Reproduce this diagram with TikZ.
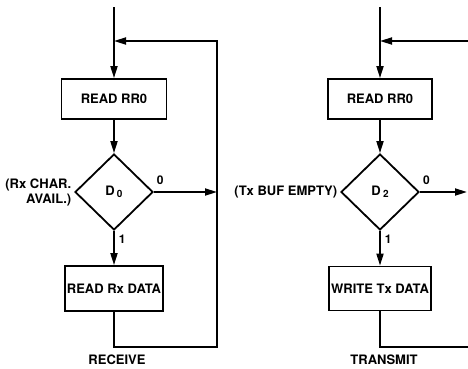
\documentclass[tikz,border=0pt]{standalone}
\usepackage{fontspec}
\setmainfont{TeX Gyre Heros}
\usepackage{tikz}
\usetikzlibrary{positioning, arrows.meta, shapes.geometric}

\newcommand{\subidx}[1]{\raisebox{-2.5pt}{\fontsize{10}{10}\selectfont #1}}

\tikzset{
  procbox/.style={draw, rectangle, minimum height=40pt, inner sep=0pt},
  testbox/.style={draw, diamond, minimum width=78pt, minimum height=76pt, inner sep=0pt},
  branchlbl/.style={font=\bfseries\fontsize{12}{14}\selectfont, inner sep=1pt},
  sidelbl/.style={anchor=east, align=right, inner sep=0pt}
}

\begin{document}
\begin{tikzpicture}[x=1pt, y=-1pt, >={Triangle[length=12pt,width=7pt]}, line width=1.8pt,
    font=\bfseries\fontsize{13}{15}\selectfont]
  \useasboundingbox (0,0) rectangle (468,368);

  % Receive side
  \coordinate (rxtop) at (114,7);
  \coordinate (rxjoin) at (114,41);
  \coordinate (rxloop) at (217,41);
  \coordinate (rxside) at (217,192);
  \coordinate (rxcorner) at (217,347);

  \node[procbox, minimum width=105pt] (rxread) at (114,99) {READ RR0};
  \node[testbox] (rxtest) at (114,192) {D\,\subidx{0}};
  \node[procbox, minimum width=98pt, minimum height=45pt] (rxdata) at (114,288.5) {READ Rx DATA};
  \node[sidelbl] (rxcond) at ([xshift=-2pt]rxtest.west) {(Rx CHAR.\\AVAIL.)};

  \draw[->] (rxtop) -- (rxread.north);
  \draw[->] (rxread.south) -- (rxtest.north);
  \draw[->] (rxtest.south) -- node[branchlbl, right, pos=0.25, xshift=3pt] {1} (rxdata.north);
  \draw[->] (rxtest.east) -- node[branchlbl, above, pos=0.1, yshift=6pt] {0} (rxside);
  \draw[->] (rxdata.south) |- (rxcorner) -- (rxloop) -- (rxjoin);

  \node[inner sep=1pt] (rxname) at (117,360) {RECEIVE};

  % Transmit side
  \coordinate (txtop) at (380,7);
  \coordinate (txjoin) at (380,41);
  \coordinate (txin) at (468,41);
  \coordinate (txout) at (467,192);
  \coordinate (txend) at (468,347);

  \node[procbox, minimum width=104pt] (txread) at (380,99) {READ RR0};
  \node[testbox] (txtest) at (380,192) {D\,\subidx{2}};
  \node[procbox, minimum width=102pt, minimum height=44pt] (txdata) at (380,288.5) {WRITE Tx DATA};
  \node[sidelbl] (txcond) at ([xshift=-2pt]txtest.west) {(Tx BUF EMPTY)};

  \draw[->] (txtop) -- (txread.north);
  \draw[->] (txin) -- (txjoin);
  \draw[->] (txread.south) -- (txtest.north);
  \draw[->] (txtest.south) -- node[branchlbl, right, pos=0.25, xshift=3pt] {1} (txdata.north);
  \draw[->] (txtest.east) -- node[branchlbl, above, pos=0.14, yshift=6pt] {0} (txout);
  \draw (txdata.south) |- (txend);

  \node[inner sep=1pt] (txname) at (384,360) {TRANSMIT};
\end{tikzpicture}
\end{document}
